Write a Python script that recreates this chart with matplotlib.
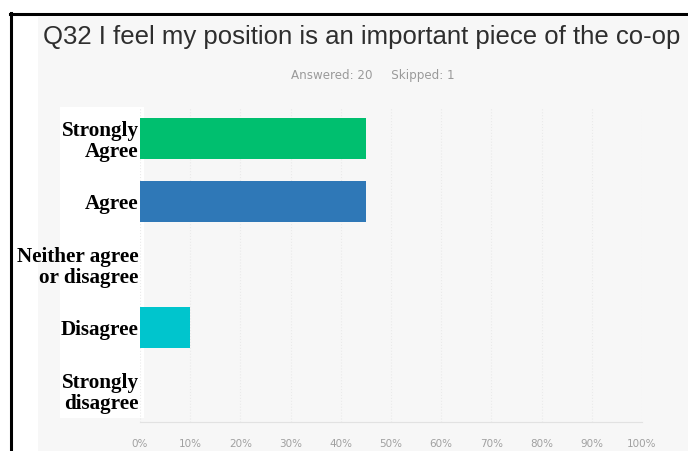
import matplotlib.pyplot as plt
from matplotlib.patches import Rectangle
from matplotlib.lines import Line2D

# survey answers
categories = ['Strongly\nAgree', 'Agree', 'Neither agree\nor disagree', 'Disagree', 'Strongly\ndisagree']
percent = [45, 45, 0, 10, 0]
bar_colors = ['#00bf6f', '#2f78b7', '#888888', '#00c5cd', '#888888']
tick_vals = [0, 10, 20, 30, 40, 50, 60, 70, 80, 90, 100]
tick_labels = [f'{v}%' for v in tick_vals]

W, H = 688, 451
fig = plt.figure(figsize=(W / 100, H / 100), dpi=100)
fig.patch.set_facecolor('white')

# grey panel of the screenshot
fig.patches.append(Rectangle((38 / W, 0), 1 - 38 / W, (H - 17) / H,
                             transform=fig.transFigure, facecolor='#f7f7f7',
                             edgecolor='none', zorder=-2))
# white box behind the category labels
fig.patches.append(Rectangle((60 / W, (H - 418) / H), 84 / W, 311 / H,
                             transform=fig.transFigure, facecolor='white',
                             edgecolor='none', zorder=1))
# black frame on top/left
fig.lines.append(Line2D([11 / W, 11 / W], [0, (H - 13) / H], transform=fig.transFigure,
                        color='black', lw=2.2, zorder=5))
fig.lines.append(Line2D([10 / W, 1], [(H - 14) / H, (H - 14) / H], transform=fig.transFigure,
                        color='black', lw=2.2, zorder=5))

ax = fig.add_axes([140 / W, (H - 422) / H, 502 / W, 315 / H])
ax.set_zorder(2)
ax.patch.set_alpha(0)

ypos = list(range(len(categories)))
ax.barh(ypos, percent, height=0.66, color=bar_colors, zorder=3)
ax.set_xlim(0, 100)
ax.set_ylim(len(categories) - 0.5, -0.5)

ax.set_yticks(ypos)
ax.set_yticklabels(categories, fontfamily='Liberation Serif', fontweight='bold',
                   fontsize=15.2, color='black', linespacing=1.08)
ax.tick_params(axis='y', length=0, pad=1)

ax.set_xticks(tick_vals)
ax.set_xticklabels(tick_labels, fontsize=7.5, color='#a0a0a0')
ax.tick_params(axis='x', length=0, pad=12)

ax.grid(axis='x', color='#eaeaea', linestyle=':', linewidth=0.8, zorder=0)
for s in ['top', 'right', 'left']:
    ax.spines[s].set_visible(False)
ax.spines['bottom'].set_color('#e2e2e2')

fig.text(362 / W, 1 - 37 / H, 'Q32 I feel my position is an important piece of the co-op',
         ha='center', va='center', fontsize=18.5, color='#2e2e2e', fontfamily='Liberation Sans')
fig.text(373 / W, 1 - 75 / H, 'Answered: 20     Skipped: 1',
         ha='center', va='center', fontsize=8.6, color='#9a9a9a')

fig.savefig('out.png', dpi=100)
